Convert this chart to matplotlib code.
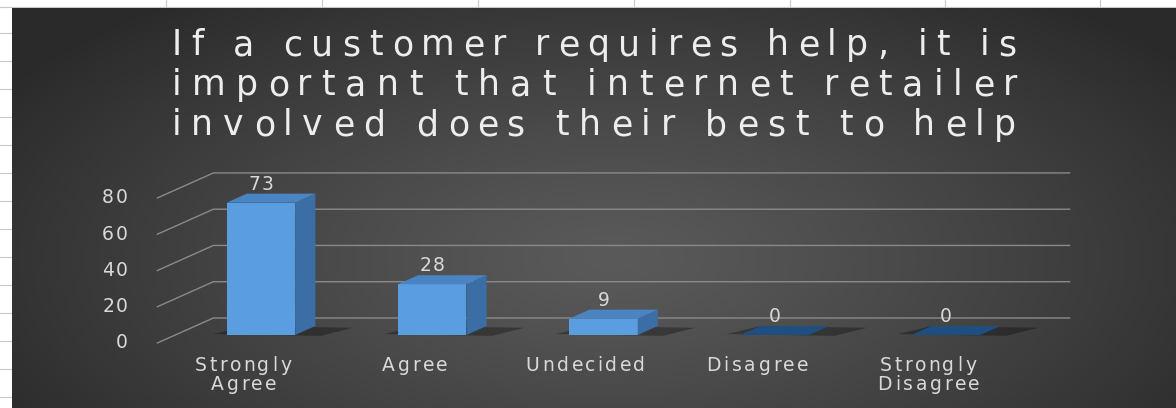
import numpy as np
import matplotlib
matplotlib.use('Agg')
import matplotlib.pyplot as plt
from matplotlib.patches import Polygon, Rectangle
from matplotlib.font_manager import FontProperties
from matplotlib.transforms import ScaledTranslation

categories = ['Strongly\nAgree', 'Agree', 'Undecided', 'Disagree', 'Strongly\nDisagree']
values = [73, 28, 9, 0, 0]
y_ticks = [0, 20, 40, 60, 80]
title = ('If a customer requires help, it is\n'
         'important that internet retailer\n'
         'involved does their best to help')

W, H = 1176, 408
DPI = 100
fig = plt.figure(figsize=(W / DPI, H / DPI), dpi=DPI)
renderer = fig.canvas.get_renderer()


def advances(s, size):
    prop = FontProperties(family='DejaVu Sans', size=size)
    base = renderer.get_text_width_height_descent('xx', prop, ismath=False)[0]
    return [renderer.get_text_width_height_descent('x' + c + 'x', prop, ismath=False)[0] - base
            for c in s]


def spaced_text(x, y, s, transform, size, track, line_h, ha='center',
                width=None, va='baseline', **kw):
    # letter-spaced text, one glyph at a time, lines stacked downwards
    for li, line in enumerate(s.split('\n')):
        adv = advances(line, size)
        tr = track
        if width is not None:
            tr = (width - sum(adv)) / (len(line) - 1)
        total = sum(adv) + tr * (len(line) - 1)
        if ha == 'center':
            start = -total / 2
        elif ha == 'right':
            start = -total
        else:
            start = 0
        pos = start
        for c, a in zip(line, adv):
            if c != ' ':
                off = ScaledTranslation(pos / DPI, -li * line_h / DPI, fig.dpi_scale_trans)
                fig.text(x, y, c, transform=transform + off, fontsize=size,
                         family='DejaVu Sans', ha='left', va=va, **kw)
            pos += a + tr


# spreadsheet behind the chart + dark radial background
bg = fig.add_axes([0, 0, 1, 1])
bg.set_xlim(0, W)
bg.set_ylim(H, 0)
bg.axis('off')
bg.add_patch(Rectangle((0, 0), W, H, color='white', zorder=0))
for x in [166, 322, 478, 634, 790, 945, 1100]:
    bg.plot([x, x], [0, 7], color='#c8c8c8', lw=0.8, zorder=1)
for y in range(33, H, 28):
    bg.plot([0, 11], [y, y], color='#c8c8c8', lw=0.8, zorder=1)
bg.plot([0, W], [7, 7], color='#c8c8c8', lw=0.8, zorder=1)

yy, xx = np.mgrid[0:H - 8, 0:W - 12]
r = np.sqrt(((xx - 600) / 720.0) ** 2 + ((yy - 250) / 330.0) ** 2)
r = np.clip(r, 0, 1)
c0 = np.array([0x5a, 0x5a, 0x5a]) / 255.0
c1 = np.array([0x2a, 0x2a, 0x2a]) / 255.0
img = c0 + (c1 - c0) * r[..., None] ** 1.2
bg.imshow(img, extent=(12, W, H, 8), zorder=2, interpolation='bilinear')

# main axes: x in category units, y in value units
ax = fig.add_axes([0, 0, 1, 1])
ax.patch.set_alpha(0)
ax.set_xlim(-1.419, 5.448)
ax.set_ylim(-35.86, 189.2)
ax.axis('off')

DX, DY = 0.327, 13.8          # offset from front of floor to back wall
t0, t1 = 0.32, 0.68           # bar depth span
hw = 0.2                      # half bar width
n = len(categories)
grid_c = '#8a8a8a'
txt_c = '#d9d9d9'

for v in y_ticks:
    ax.plot([-0.5, -0.5 + DX, n - 0.5 + DX], [v, v + DY, v + DY],
            color=grid_c, lw=1.0, zorder=3)
    spaced_text(-0.672, v - 3.0, str(v), ax.transData, 13.5, 2, 0,
                ha='right', color=txt_c, zorder=6)

for i, (cat, v) in enumerate(zip(categories, values)):
    x0 = i - hw + t0 * DX
    x1 = i + hw + t0 * DX
    b = t0 * DY
    top = v + b
    ddx = (t1 - t0) * DX
    ddy = (t1 - t0) * DY

    # shadow on the floor
    ax.add_patch(Polygon([(x0 - 0.08, b + 0.5), (x1 + 0.15, b - 0.5),
                          (x1 + ddx + 0.22, b + ddy - 1),
                          (x0 + ddx, b + ddy)],
                         closed=True, color='black', alpha=0.3, lw=0, zorder=4))

    if v > 0:
        ax.bar(i + t0 * DX, v, width=2 * hw, bottom=b, color='#5a9de0',
               edgecolor='none', zorder=5)
        ax.add_patch(Polygon([(x1, b), (x1 + ddx, b + ddy),
                              (x1 + ddx, top + ddy), (x1, top)],
                             closed=True, color='#3c6ea6', lw=0, zorder=5))
        top_c = '#4b84c2'
    else:
        top_c = '#1f4f80'
    ax.add_patch(Polygon([(x0, top), (x1, top), (x1 + ddx, top + ddy),
                          (x0 + ddx, top + ddy)],
                         closed=True, color=top_c, lw=0, zorder=5))

    spaced_text(i + t0 * DX, top + ddy + 2.2, str(v), ax.transData, 13.5, 2, 0,
                color=txt_c, zorder=6)
    spaced_text(i, -15.4, cat, ax.transData, 13.5, 2.8, 19.5,
                color=txt_c, zorder=6)

spaced_text(594 / W, 1 - 55 / H, title, fig.transFigure, 25, 0, 40,
            width=845, color='#ededed')

fig.savefig('out.png', dpi=DPI)
